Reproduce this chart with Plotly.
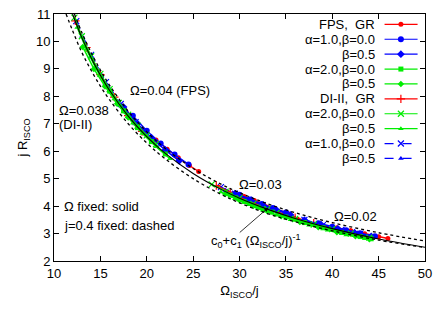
import plotly.graph_objects as go

# fit c0 + c1 (Omega/j)^-1 and the two j=0.4 sequences (dotted)
fit_x = [12, 13, 14, 15, 16, 18, 20, 22, 25, 28, 30, 33, 36, 40, 45, 50]
fit_y = [11.00, 10.14, 9.41, 8.77, 8.21, 7.28, 6.53, 5.92, 5.19, 4.61, 4.29, 3.89, 3.55, 3.18, 2.80, 2.50]
dot_hi_x = [12.2, 13, 14, 15, 16, 18, 20, 22, 25, 28, 30, 33, 36, 40, 45, 50]
dot_hi_y = [11.0, 10.33, 9.60, 8.96, 8.40, 7.46, 6.71, 6.10, 5.37, 4.80, 4.49, 4.09, 3.76, 3.40, 3.03, 2.73]
dot_lo_x = [11.3, 12, 13, 14, 15, 16, 18, 20, 22, 25, 28, 30, 33, 36, 40, 45, 50]
dot_lo_y = [11.0, 10.40, 9.60, 8.95, 8.37, 7.87, 7.00, 6.30, 5.72, 5.00, 4.43, 4.12, 3.73, 3.43, 3.10, 2.76, 2.49]

# FPS sequences (Omega = 0.04, 0.03, 0.02)
fps_gr_x = [21.0, 22.2, 23.4, 24.6, 25.6, None, 30.5, 31.6, 32.6, 33.8, 35.2, None, 40.5, 42.0, 43.5, 45.0, 46.0]
fps_gr_y = [6.41, 6.07, 5.76, 5.48, 5.26, None, 4.35, 4.20, 4.06, 3.90, 3.73, None, 3.21, 3.10, 2.99, 2.88, 2.82]
fps_a1b0_x = [18.5, 20.0, 21.5, 23.0, 24.5, None, 30.0, 31.2, 32.4, 33.6, 35.0, None, 38.5, 40.0, 41.5, 43.0, 44.6]
fps_a1b0_y = [7.29, 6.75, 6.28, 5.88, 5.52, None, 4.41, 4.24, 4.08, 3.93, 3.77, None, 3.38, 3.25, 3.12, 3.01, 2.90]
fps_a1b5_x = [17.5, 19.0, 20.5, 22.0, 23.5, None, 29.5, 31.0, 32.5, 34.0, 35.5, None, 37.0, 38.8, 40.6, 42.4, 44.2]
fps_a1b5_y = [7.61, 7.00, 6.49, 6.04, 5.65, None, 4.45, 4.23, 4.03, 3.85, 3.68, None, 3.49, 3.32, 3.17, 3.03, 2.90]
fps_a2b0_x = [16.0, 17.5, 19.0, 20.5, 22.0, None, 29.0, 30.5, 32.0, 33.5, None, 35.0, 37.0, 39.0, 41.0, 43.0, 44.2]
fps_a2b0_y = [8.19, 7.47, 6.86, 6.35, 5.90, None, 4.40, 4.17, 3.96, 3.78, None, 3.60, 3.40, 3.21, 3.04, 2.89, 2.81]
fps_a2b5_x = [13.1, 14.3, 15.5, 16.8, 18.0, None, 28.5, 30.0, 31.5, 33.0, None, 34.5, 36.5, 38.5, 40.5, 42.5, 44.0]
fps_a2b5_y = [9.80, 9.00, 8.36, 7.73, 7.23, None, 4.45, 4.21, 4.00, 3.81, None, 3.63, 3.42, 3.23, 3.05, 2.90, 2.79]

# DI-II sequences (Omega = 0.038, 0.03, 0.02)
di_gr_x = [12.3, 13.5, 15.0, 16.5, 18.0, 19.5, None, 27.5, 29.0, 30.5, 32.0, None, 34.0, 36.0, 38.0, 40.0, 42.0]
di_gr_y = [10.75, 9.78, 8.79, 7.97, 7.30, 6.72, None, 4.75, 4.50, 4.27, 4.06, None, 3.80, 3.58, 3.38, 3.21, 3.05]
di_a2b0_x = [12.2, 13.0, 14.0, 15.0, 16.0, 17.0, 18.0, 19.0, 20.0, 21.0, None, 27.0, 28.5, 30.0, 31.5, 33.0,
             None, 34.0, 36.0, 38.0, 40.0, 42.0, 44.0]
di_a2b0_y = [10.87, 10.19, 9.46, 8.82, 8.26, 7.76, 7.33, 6.93, 6.58, 6.26, None, 4.79, 4.53, 4.29, 4.08, 3.89,
             None, 3.75, 3.53, 3.33, 3.16, 3.00, 2.85]
di_a2b5_x = [12.5, 13.5, 14.5, 15.5, 16.5, 17.5, 18.5, 19.5, 21.0, 22.5, None, 28.0, 29.5, 31.0, 32.5, 34.0,
             None, 35.5, 37.5, 39.5, 41.5, 43.5]
di_a2b5_y = [10.51, 9.71, 9.03, 8.43, 7.90, 7.44, 7.02, 6.65, 6.16, 5.73, None, 4.51, 4.27, 4.05, 3.85, 3.67,
             None, 3.50, 3.30, 3.12, 2.95, 2.81]
di_a1b0_x = [12.4, 14.0, 15.6, 17.2, 18.8, None, 28.0, 29.5, 31.0, 32.5, None, 35.0, 37.0, 39.0, 41.0, 43.0]
di_a1b0_y = [10.74, 9.51, 8.52, 7.72, 7.06, None, 4.69, 4.45, 4.23, 4.03, None, 3.70, 3.50, 3.31, 3.14, 2.99]
di_a1b5_x = [13.0, 14.6, 16.2, 17.8, 19.4, None, 28.5, 30.0, 31.5, 33.0, None, 36.0, 38.0, 40.0, 42.0, 44.0]
di_a1b5_y = [10.19, 9.06, 8.15, 7.41, 6.79, None, 4.57, 4.33, 4.12, 3.93, None, 3.57, 3.37, 3.20, 3.04, 2.89]

RED, BLUE, GREEN = "#ff0000", "#0000ff", "#00ee00"
FONT = "Liberation Sans, Arial, sans-serif"
FS = 13

# label, x, y, color, symbol, marker size, dash
series = [
    ("FPS,\u00a0 GR", fps_gr_x, fps_gr_y, RED, "circle", 5, "solid"),
    ("\u03b1=1.0,\u03b2=0.0", fps_a1b0_x, fps_a1b0_y, BLUE, "circle", 6, "solid"),
    ("\u03b2=0.5", fps_a1b5_x, fps_a1b5_y, BLUE, "diamond", 6, "solid"),
    ("\u03b1=2.0,\u03b2=0.0", fps_a2b0_x, fps_a2b0_y, GREEN, "square", 5, "solid"),
    ("\u03b2=0.5", fps_a2b5_x, fps_a2b5_y, GREEN, "diamond", 5, "solid"),
    ("DI-II,\u00a0 GR", di_gr_x, di_gr_y, RED, "cross-thin", 6, "solid"),
    ("\u03b1=2.0,\u03b2=0.0", di_a2b0_x, di_a2b0_y, GREEN, "x-thin", 6, "solid"),
    ("\u03b2=0.5", di_a2b5_x, di_a2b5_y, GREEN, "triangle-up", 5, "solid"),
    ("\u03b1=1.0,\u03b2=0.0", di_a1b0_x, di_a1b0_y, BLUE, "x-thin", 6, "dash"),
    ("\u03b2=0.5", di_a1b5_x, di_a1b5_y, BLUE, "triangle-up", 5, "dash"),
]

# drawing order (so the green DI-II band sits on top, like the original)
draw_order = [0, 8, 9, 5, 1, 2, 3, 4, 6, 7]

fig = go.Figure()


def marker(color, symbol, size):
    m = dict(color=color, symbol=symbol, size=size)
    if symbol.endswith("thin"):
        m["line"] = dict(color=color, width=1.2)
    else:
        m["line"] = dict(width=0)
    return m


for i in draw_order:
    label, xs, ys, color, symbol, size, dash = series[i]
    fig.add_trace(go.Scatter(
        x=xs, y=ys, mode="lines+markers", showlegend=False,
        line=dict(color=color, width=1.4, dash=dash),
        marker=marker(color, symbol, size),
    ))

fig.add_trace(go.Scatter(x=dot_lo_x, y=dot_lo_y, mode="lines", showlegend=False,
                         line=dict(color="black", width=1.3, dash="dot", shape="spline")))
fig.add_trace(go.Scatter(x=dot_hi_x, y=dot_hi_y, mode="lines", showlegend=False,
                         line=dict(color="black", width=1.3, dash="dot", shape="spline")))
fig.add_trace(go.Scatter(x=fit_x, y=fit_y, mode="lines", showlegend=False,
                         line=dict(color="black", width=1.1, shape="spline")))

# gnuplot style key: right aligned text, sample on the right
annotations = []
row0, step = 0.958, 0.0603
key_x0, key_xm, key_x1, key_text = 0.891, 0.935, 0.980, 0.870
for k, (label, xs, ys, color, symbol, size, dash) in enumerate(series):
    yk = row0 - k * step
    fig.add_trace(go.Scatter(
        x=[key_x0, key_x1], y=[yk, yk], xaxis="x2", yaxis="y2",
        mode="lines", showlegend=False, hoverinfo="skip",
        line=dict(color=color, width=1.2, dash=dash),
    ))
    fig.add_trace(go.Scatter(
        x=[key_xm], y=[yk], xaxis="x2", yaxis="y2",
        mode="markers", showlegend=False, hoverinfo="skip",
        marker=marker(color, symbol, size),
    ))
    annotations.append(dict(
        x=key_text, y=yk, xref="paper", yref="paper", text=label, showarrow=False,
        xanchor="right", yanchor="middle", font=dict(size=FS, color="black", family=FONT),
    ))


def note(text, x, y, xanchor="left"):
    annotations.append(dict(x=x, y=y, xref="paper", yref="paper", text=text, showarrow=False,
                            xanchor=xanchor, yanchor="middle",
                            font=dict(size=FS, color="black", family=FONT)))


note("\u03a9=0.04 (FPS)", 0.200, 0.689)
note("\u03a9=0.038", 0.008, 0.608)
note("(DI-II)", 0.008, 0.551)
note("\u03a9 fixed: solid", 0.022, 0.219)
note("j=0.4 fixed: dashed", 0.022, 0.142)
note("\u03a9=0.03", 0.493, 0.308)
note("\u03a9=0.02", 0.750, 0.182)
note("c<sub>0</sub>+c<sub>1</sub> (\u03a9<sub>ISCO</sub>/j)<sup>-1</sup>", 0.418, 0.082)

annotations.append(dict(
    x=33.1, y=3.94, xref="x", yref="y", ax=-30, ay=26, text="", showarrow=True,
    arrowhead=2, arrowsize=1, arrowwidth=0.8, arrowcolor="black",
))

axis_common = dict(
    showgrid=False, zeroline=False, showline=True, linecolor="black", linewidth=1,
    mirror="ticks", ticks="inside", ticklen=5, tickcolor="black", automargin=False,
    ticklabeloverflow="allow",
    tickfont=dict(size=FS, color="black", family=FONT),
)

# the page body adds an 8px offset, so the margins are shifted to compensate
fig.update_layout(
    width=448, height=313,
    margin=dict(l=46, r=31, t=6, b=60),
    paper_bgcolor="white", plot_bgcolor="white",
    showlegend=False,
    xaxis=dict(axis_common, range=[10, 50], dtick=5,
               title=dict(text="\u03a9<sub>ISCO</sub>/j", standoff=6,
                          font=dict(size=FS, color="black", family=FONT))),
    yaxis=dict(axis_common, range=[2, 11], dtick=1,
               title=dict(text="j R<sub>ISCO</sub>", standoff=5,
                          font=dict(size=FS, color="black", family=FONT))),
    xaxis2=dict(overlaying="x", range=[0, 1], visible=False),
    yaxis2=dict(overlaying="y", range=[0, 1], visible=False),
    annotations=annotations,
)

fig.write_html("out.html")
